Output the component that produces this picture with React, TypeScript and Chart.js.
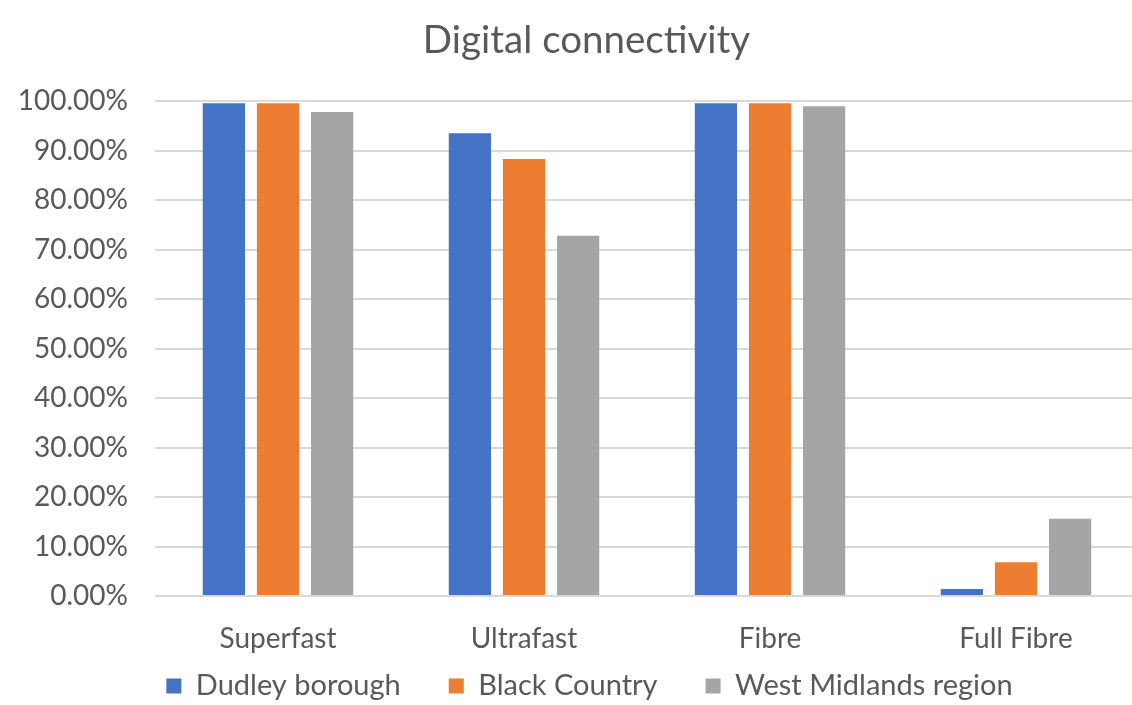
import React, { useEffect, useRef } from "react";
import { Chart, registerables } from "chart.js";

Chart.register(...registerables);

const categories = ["Superfast", "Ultrafast", "Fibre", "Full Fibre"];
const dudley = [99.6, 93.5, 99.6, 1.4];
const blackCountry = [99.6, 88.3, 99.6, 6.8];
const westMidlands = [97.8, 72.8, 99.0, 15.6];
const seriesNames = ["Dudley borough", "Black Country", "West Midlands region"];
const yTicks = [0, 10, 20, 30, 40, 50, 60, 70, 80, 90, 100];

const FONT = "Lato, 'Open Sans', sans-serif";
const TEXT = "#595959";

const layoutTweaks = {
  id: "layoutTweaks",
  afterLayout(chart: any) {
    const lg = chart.legend;
    if (lg) {
      lg.left += 20;
      lg.right += 20;
    }
    const tb = chart.titleBlock;
    if (tb) {
      tb.left += 17;
      tb.right += 17;
    }
    const xs = chart.scales.x;
    if (xs) {
      xs.bottom = xs.top + 75;
    }
  },
};

export default function App() {
  const ref = useRef<HTMLCanvasElement | null>(null);
  useEffect(() => {
    if (!ref.current) return;
    const chart = new Chart(ref.current, {
      type: "bar",
      data: {
        labels: categories,
        datasets: [
          { label: seriesNames[0], data: dudley, backgroundColor: "#4472C4" },
          { label: seriesNames[1], data: blackCountry, backgroundColor: "#ED7D31" },
          { label: seriesNames[2], data: westMidlands, backgroundColor: "#A5A5A5" },
        ],
      },
      plugins: [layoutTweaks],
      options: {
        animation: false,
        responsive: false,
        layout: { padding: { left: 0, right: 6, top: 0, bottom: -5.5 } },
        datasets: { bar: { categoryPercentage: 0.66, barPercentage: 0.78 } },
        plugins: {
          title: {
            display: true,
            text: "Digital connectivity",
            color: TEXT,
            font: { family: FONT, size: 38.5, weight: "normal", lineHeight: 1.2 },
            padding: { top: 17, bottom: 38 },
          },
          legend: {
            position: "bottom",
            labels: {
              color: TEXT,
              font: { family: FONT, size: 29 },
              boxWidth: 15,
              boxHeight: 15,
              padding: 48,
            },
          },
          tooltip: { enabled: false },
        },
        scales: {
          x: {
            grid: { display: false, drawTicks: false },
            border: { display: false },
            ticks: { color: TEXT, font: { family: FONT, size: 28 }, padding: 26 },
            afterFit(scale: any) {
              scale.height = 27.5;
            },
          },
          y: {
            min: 0,
            max: 100,
            afterBuildTicks(scale: any) {
              scale.ticks = yTicks.map((v) => ({ value: v }));
            },
            grid: { color: "#D9D9D9", lineWidth: 2, drawTicks: false },
            border: { display: false },
            ticks: {
              color: TEXT,
              font: { family: FONT, size: 28 },
              padding: 27,
              callback: (v: any) => Number(v).toFixed(2) + "%",
            },
            afterFit(scale: any) {
              scale.width = 155;
            },
          },
        },
      },
    });
    return () => chart.destroy();
  }, []);
  return (
    <div style={{ position: "absolute", left: 0, top: 0, width: 1132, height: 705, overflow: "hidden", background: "#fff" }}>
      <canvas ref={ref} width={1145} height={705} style={{ width: 1145, height: 705 }} />
    </div>
  );
}
